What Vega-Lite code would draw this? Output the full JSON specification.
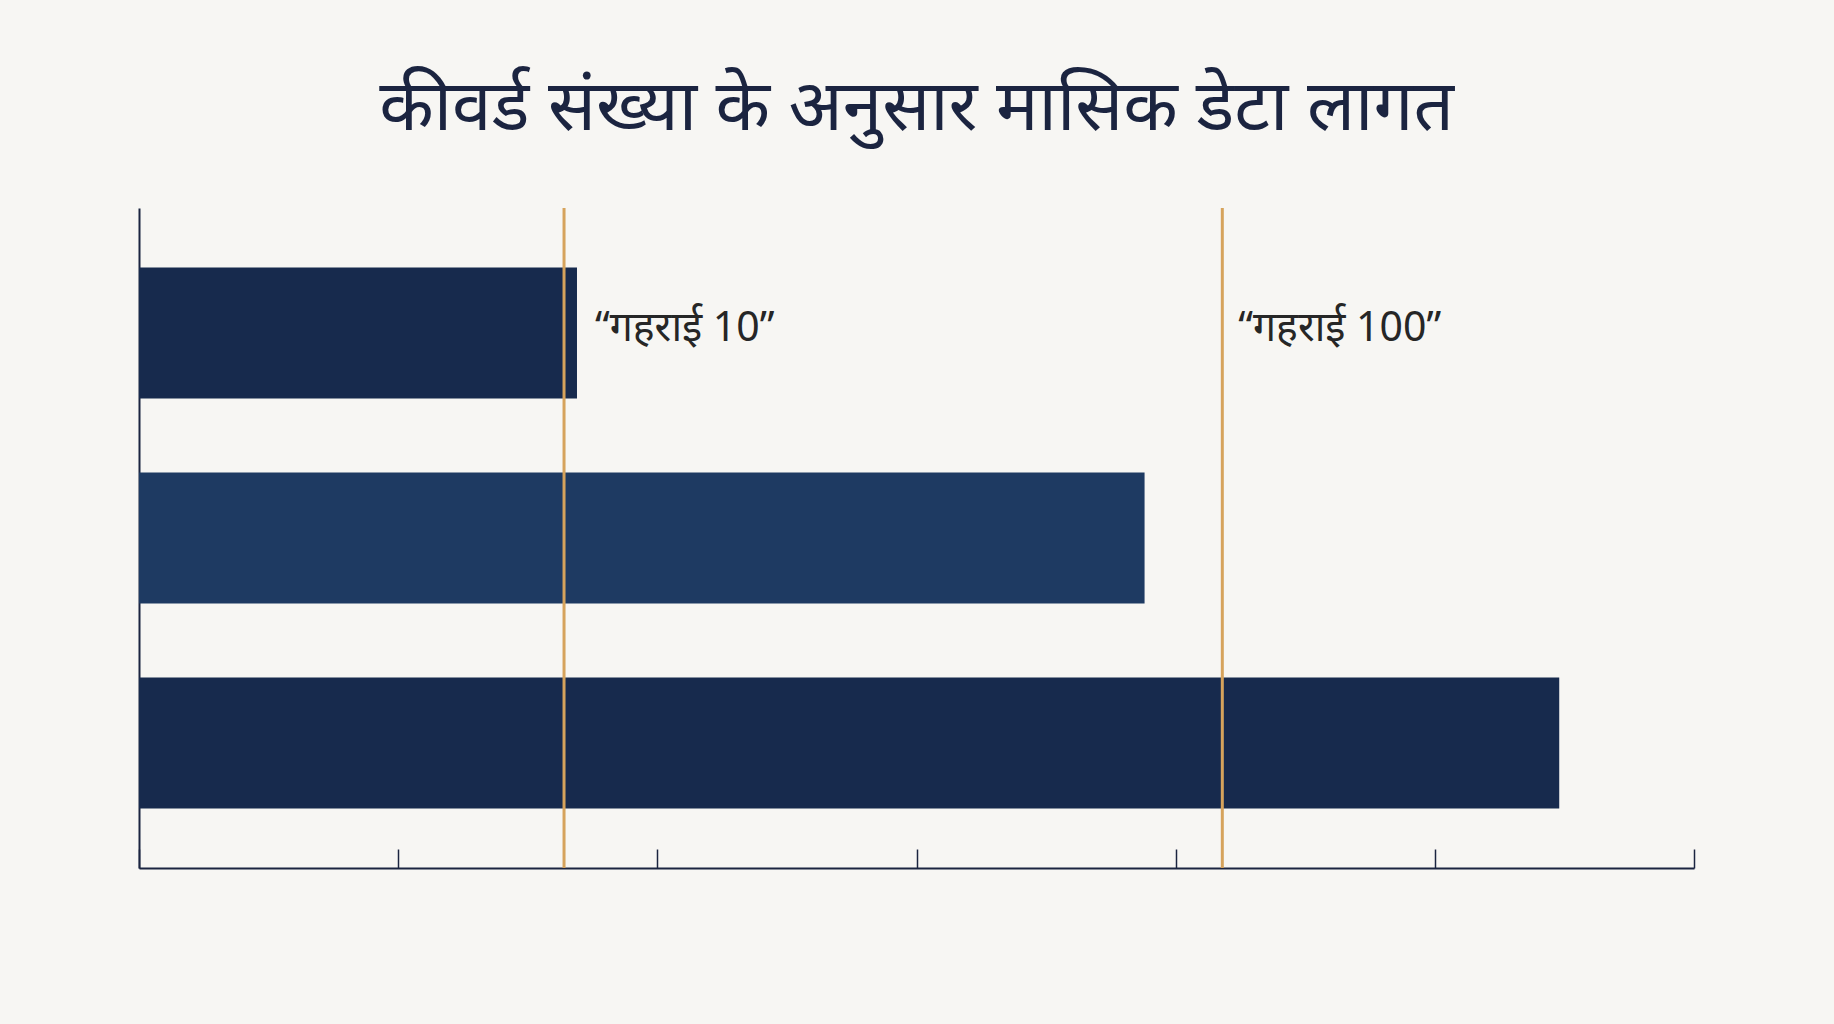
{
  "$schema": "https://vega.github.io/schema/vega-lite/v6.json",
  "autosize": "none",
  "padding": {"left": 139, "top": 208, "right": 140, "bottom": 156},
  "width": 1555,
  "height": 660,
  "background": "#f7f6f3",
  "title": {
    "text": "कीवर्ड संख्या के अनुसार मासिक डेटा लागत",
    "anchor": "middle",
    "frame": "group",
    "fontSize": 71,
    "fontWeight": "normal",
    "font": "Noto Sans",
    "color": "#1b2440",
    "offset": 62
  },
  "datasets": {
    "bars": [
      {"tier": "1", "cost": 1.69, "shade": "dark"},
      {"tier": "2", "cost": 3.88, "shade": "mid"},
      {"tier": "3", "cost": 5.48, "shade": "dark"}
    ],
    "marks": [
      {"depth": "“गहराई 10”", "cost": 1.64, "tier": "1"},
      {"depth": "“गहराई 100”", "cost": 4.18, "tier": "1"}
    ]
  },
  "layer": [
    {
      "data": {"name": "bars"},
      "mark": {"type": "bar"},
      "encoding": {
        "y": {
          "field": "tier",
          "type": "nominal",
          "scale": {"paddingInner": 0.36, "paddingOuter": 0.29},
          "axis": {"title": null, "labels": false, "ticks": false, "domain": true, "domainColor": "#1b2440", "domainWidth": 2}
        },
        "x": {
          "field": "cost",
          "type": "quantitative",
          "scale": {"domain": [0, 6], "nice": false},
          "axis": {
            "title": null,
            "labels": false,
            "grid": false,
            "values": [0, 1, 2, 3, 4, 5, 6],
            "tickSize": -19,
            "tickWidth": 1.5,
            "tickColor": "#1b2440",
            "domainColor": "#1b2440",
            "domainWidth": 2
          }
        },
        "color": {
          "field": "shade",
          "type": "nominal",
          "scale": {"domain": ["dark", "mid"], "range": ["#172a4d", "#1e3a62"]},
          "legend": null
        }
      }
    },
    {
      "data": {"name": "marks"},
      "mark": {"type": "rule", "color": "#d6a35c", "strokeWidth": 3},
      "encoding": {
        "x": {"field": "cost", "type": "quantitative"}
      }
    },
    {
      "data": {"name": "marks"},
      "transform": [{"filter": "datum.cost < 3"}],
      "mark": {"type": "text", "align": "left", "baseline": "middle", "dx": 31, "dy": -4, "fontSize": 41, "font": "Noto Sans", "color": "#262626"},
      "encoding": {
        "x": {"field": "cost", "type": "quantitative"},
        "y": {"field": "tier", "type": "nominal"},
        "text": {"field": "depth"}
      }
    },
    {
      "data": {"name": "marks"},
      "transform": [{"filter": "datum.cost > 3"}],
      "mark": {"type": "text", "align": "left", "baseline": "middle", "dx": 16, "dy": -4, "fontSize": 41, "font": "Noto Sans", "color": "#262626"},
      "encoding": {
        "x": {"field": "cost", "type": "quantitative"},
        "y": {"field": "tier", "type": "nominal"},
        "text": {"field": "depth"}
      }
    }
  ],
  "config": {"view": {"stroke": null}}
}
